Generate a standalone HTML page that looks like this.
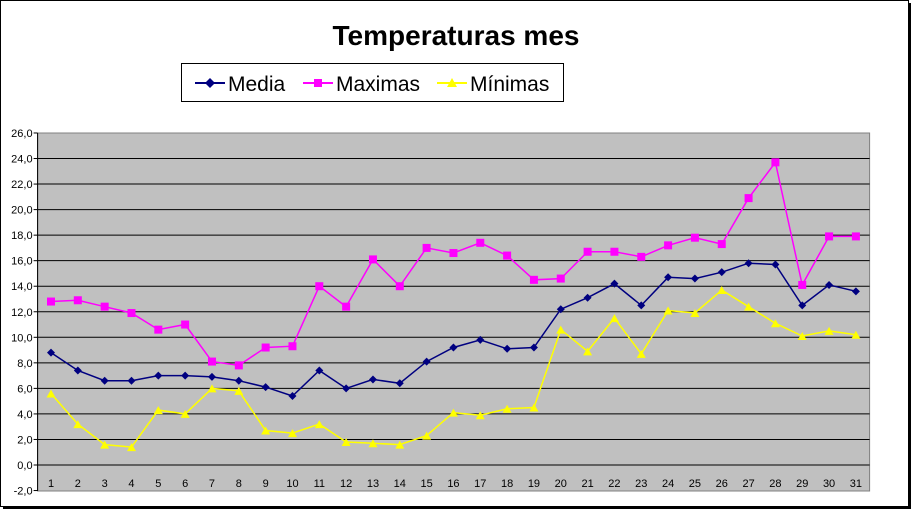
<!DOCTYPE html>
<html><head><meta charset="utf-8"><style>
body{margin:0;background:#fff;}
svg{display:block;font-family:"Liberation Sans",Arial,sans-serif;}
</style></head><body>
<svg id="s" width="913" height="511" xmlns="http://www.w3.org/2000/svg">
<rect x="3" y="3" width="908" height="506" fill="#000"/>
<rect x="0.5" y="0.5" width="908" height="506" fill="#fff" stroke="#000"/>
<text x="456" y="45" text-anchor="middle" font-size="28" font-weight="bold">Temperaturas mes</text>
<rect x="181.5" y="63.5" width="382" height="38" fill="#fff" stroke="#000"/>
<line x1="195" y1="83" x2="225" y2="83" stroke="#000080" stroke-width="2"/>
<path d="M210 78 L215 83 L210 88 L205 83Z" fill="#000080"/>
<text x="228" y="91" font-size="21">Media</text>
<line x1="303" y1="83" x2="333" y2="83" stroke="#FF00FF" stroke-width="2"/>
<rect x="314" y="79" width="8" height="8" fill="#FF00FF"/>
<text x="336" y="91" font-size="21">Maximas</text>
<line x1="437" y1="83" x2="467" y2="83" stroke="#FFFF00" stroke-width="2"/>
<path d="M452 78 L457 87 L447 87Z" fill="#FFFF00"/>
<text x="470" y="91" font-size="21">Mínimas</text>
<g id="g"></g>
</svg>
<script>
var g=document.getElementById('g'),h='';
var L=37.6,R=869.6,T=133,B=491;
function Y(v){return 465-v*12.77;}
function X(i){return 51+i*26.83;}
h+='<rect x="'+L+'" y="'+T+'" width="'+(R-L)+'" height="'+(B-T)+'" fill="#C0C0C0" stroke="#808080"/>';
for(var v=-2;v<=26;v+=2){var y=Y(v);
 if(v>-2&&v<26)h+='<line x1="'+L+'" x2="'+R+'" y1="'+y+'" y2="'+y+'" stroke="#000" stroke-width="1"/>';
 h+='<line x1="'+(L-4)+'" x2="'+L+'" y1="'+y+'" y2="'+y+'" stroke="#000"/>';
 h+='<text x="'+(L-5)+'" y="'+(y+4)+'" font-size="11" text-anchor="end">'+v.toFixed(1).replace('.',',')+'</text>';}
h+='<line x1="'+L+'" x2="'+L+'" y1="'+T+'" y2="'+B+'" stroke="#000"/>';
for(var i=0;i<31;i++){h+='<text x="'+X(i)+'" y="'+(B-4)+'" font-size="11" text-anchor="middle">'+(i+1)+'</text>';}
var med=[8.8,7.4,6.6,6.6,7.0,7.0,6.9,6.6,6.1,5.4,7.4,6.0,6.7,6.4,8.1,9.2,9.8,9.1,9.2,12.2,13.1,14.2,12.5,14.7,14.6,15.1,15.8,15.7,12.5,14.1,13.6];
var mx=[12.8,12.9,12.4,11.9,10.6,11.0,8.1,7.8,9.2,9.3,14.0,12.4,16.1,14.0,17.0,16.6,17.4,16.4,14.5,14.6,16.7,16.7,16.3,17.2,17.8,17.3,20.9,23.7,14.1,17.9,17.9];
var mn=[5.6,3.2,1.6,1.4,4.3,4.0,6.0,5.8,2.7,2.5,3.2,1.8,1.7,1.6,2.3,4.1,3.9,4.4,4.5,10.6,8.9,11.5,8.7,12.1,11.9,13.7,12.4,11.1,10.1,10.5,10.2];
function ser(d,c,m){var p=d.map(function(v,i){return X(i).toFixed(1)+','+Y(v).toFixed(1)}).join(' ');
 h+='<polyline points="'+p+'" fill="none" stroke="'+c+'" stroke-width="1.5"/>';
 d.forEach(function(v,i){var x=X(i),y=Y(v);
  if(m=='d')h+='<path d="M'+x+' '+(y-4)+' L'+(x+4)+' '+y+' L'+x+' '+(y+4)+' L'+(x-4)+' '+y+'Z" fill="'+c+'"/>';
  else if(m=='s')h+='<rect x="'+(x-4)+'" y="'+(y-4)+'" width="8" height="8" fill="'+c+'"/>';
  else h+='<path d="M'+x+' '+(y-4)+' L'+(x+4.5)+' '+(y+4)+' L'+(x-4.5)+' '+(y+4)+'Z" fill="'+c+'"/>';});}
ser(med,'#000080','d');ser(mx,'#FF00FF','s');ser(mn,'#FFFF00','t');
g.innerHTML=h;
</script>
</body></html>
